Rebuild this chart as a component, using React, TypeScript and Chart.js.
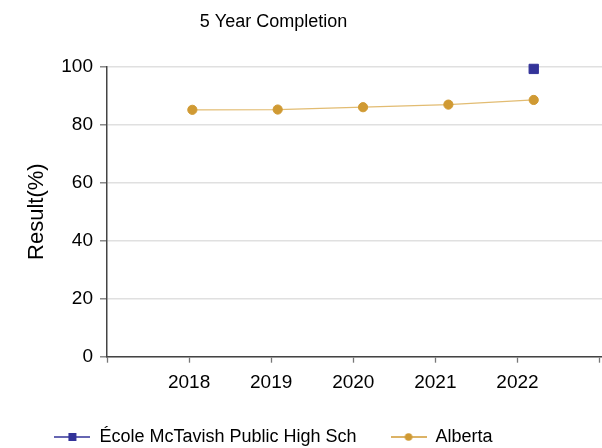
import React, { useEffect, useRef } from "react";
import { Chart, registerables } from "chart.js";

Chart.register(...registerables);

const years = [2018, 2019, 2020, 2021, 2022];
const ecoleValues: (number | null)[] = [null, null, null, null, 99.2];
const albertaValues = [85.1, 85.2, 86.0, 86.9, 88.5];
const yTicks = [0, 20, 40, 60, 80, 100];
const seriesNames = ["École McTavish Public High Sch", "Alberta"];
const titleText = "5 Year Completion";
const yTitle = "Result(%)";

const BLUE = "#333399";
const GOLD = "#D09A33";
const GOLD_LINE = "#E2BC72";

function makeMarker(kind: "rect" | "circle", color: string): HTMLCanvasElement {
  const c = document.createElement("canvas");
  c.width = 36;
  c.height = 10;
  const ctx = c.getContext("2d")!;
  ctx.strokeStyle = color;
  ctx.lineWidth = 1.5;
  ctx.beginPath();
  ctx.moveTo(0, 5);
  ctx.lineTo(36, 5);
  ctx.stroke();
  ctx.fillStyle = color;
  if (kind === "rect") {
    ctx.fillRect(14, 1, 8, 8);
  } else {
    ctx.beginPath();
    ctx.arc(18, 5, 3.8, 0, Math.PI * 2);
    ctx.fill();
  }
  return c;
}

const zeroPad = (s: any) => {
  s.paddingRight = 0;
  s.paddingLeft = 0;
};

export default function App() {
  const ref = useRef<HTMLCanvasElement | null>(null);

  useEffect(() => {
    if (!ref.current) return;
    const family = "'Liberation Sans', Arial, sans-serif";
    Chart.defaults.font.family = family;
    Chart.defaults.color = "#000";
    const markers = [makeMarker("rect", BLUE), makeMarker("circle", GOLD)];

    const chart = new Chart(ref.current, {
      type: "line",
      data: {
        datasets: [
          {
            label: seriesNames[0],
            data: years.map((x, i) => ({ x, y: ecoleValues[i] })) as any,
            xAxisID: "xd",
            borderColor: BLUE,
            backgroundColor: BLUE,
            pointStyle: "rect",
            pointRadius: 6.6,
            pointBorderWidth: 1,
            pointBorderColor: BLUE,
            pointBackgroundColor: BLUE,
            borderWidth: 1.5,
            clip: false as any,
          },
          {
            label: seriesNames[1],
            data: years.map((x, i) => ({ x, y: albertaValues[i] })),
            xAxisID: "xd",
            borderColor: GOLD_LINE,
            backgroundColor: GOLD,
            pointStyle: "circle",
            pointRadius: 4.6,
            pointBorderWidth: 1,
            pointBorderColor: GOLD,
            pointBackgroundColor: GOLD,
            borderWidth: 1.2,
            clip: false as any,
          },
        ],
      },
      options: {
        responsive: false,
        animation: false,
        layout: { autoPadding: false, padding: { left: -55, right: 0, top: 0, bottom: -8 } },
        plugins: {
          tooltip: { enabled: false },
          title: {
            display: true,
            text: titleText,
            color: "#000",
            font: { size: 18, weight: "normal" as any, family },
            padding: { top: 11, bottom: 34 },
          },
          legend: {
            display: true,
            position: "bottom",
            labels: {
              usePointStyle: true,
              pointStyleWidth: 36,
              boxHeight: 10,
              padding: 34,
              color: "#000",
              font: { size: 18, family },
              generateLabels: (c: any) => {
                const items = (Chart.defaults.plugins.legend.labels as any).generateLabels(c);
                return items.map((it: any, i: number) => ({ ...it, pointStyle: markers[i], fontColor: "#000" }));
              },
            },
          },
        },
        scales: {
          xd: {
            type: "linear",
            display: false,
            min: 2017,
            max: 2022.8,
            afterFit: zeroPad,
          },
          x: {
            type: "linear",
            position: "bottom",
            min: 2017,
            max: 2023.03,
            afterBuildTicks: (s: any) => {
              s.ticks = [2017, ...years, 2023].map((v) => ({ value: v }));
            },
            afterFit: (s: any) => {
              s.height = 37.3;
              zeroPad(s);
            },
            ticks: {
              autoSkip: false,
              maxRotation: 0,
              padding: 9,
              color: "#000",
              font: { size: 19, family },
              callback: (v: any) => (years.includes(Number(v)) ? String(v) : ""),
            },
            grid: {
              drawOnChartArea: false,
              drawTicks: true,
              tickLength: 6,
              tickColor: "#777",
              tickWidth: 1.3,
            },
            border: { display: true, color: "#444", width: 1.5 },
          },
          y: {
            type: "linear",
            min: 0,
            max: 100,
            afterBuildTicks: (s: any) => {
              s.ticks = yTicks.map((v) => ({ value: v }));
            },
            afterFit: (s: any) => {
              s.width = 162;
              zeroPad(s);
            },
            ticks: {
              padding: 7,
              color: "#000",
              font: { size: 19, family },
              callback: (v: any) => String(v),
            },
            grid: {
              color: "#e0e0e0",
              lineWidth: 1.6,
              drawTicks: true,
              tickLength: 7,
              tickColor: "#777",
              tickWidth: 1.3,
            },
            border: { display: true, color: "#444", width: 1.5 },
            title: {
              display: true,
              text: yTitle,
              color: "#000",
              font: { size: 22, family },
              padding: { top: 79, bottom: 0 },
            },
          },
        },
      },
    });
    return () => chart.destroy();
  }, []);

  return (
    <div style={{ position: "absolute", left: 0, top: 0, width: 602, height: 448, background: "#fff" }}>
      <canvas ref={ref} width={602} height={448} style={{ display: "block" }} />
    </div>
  );
}
